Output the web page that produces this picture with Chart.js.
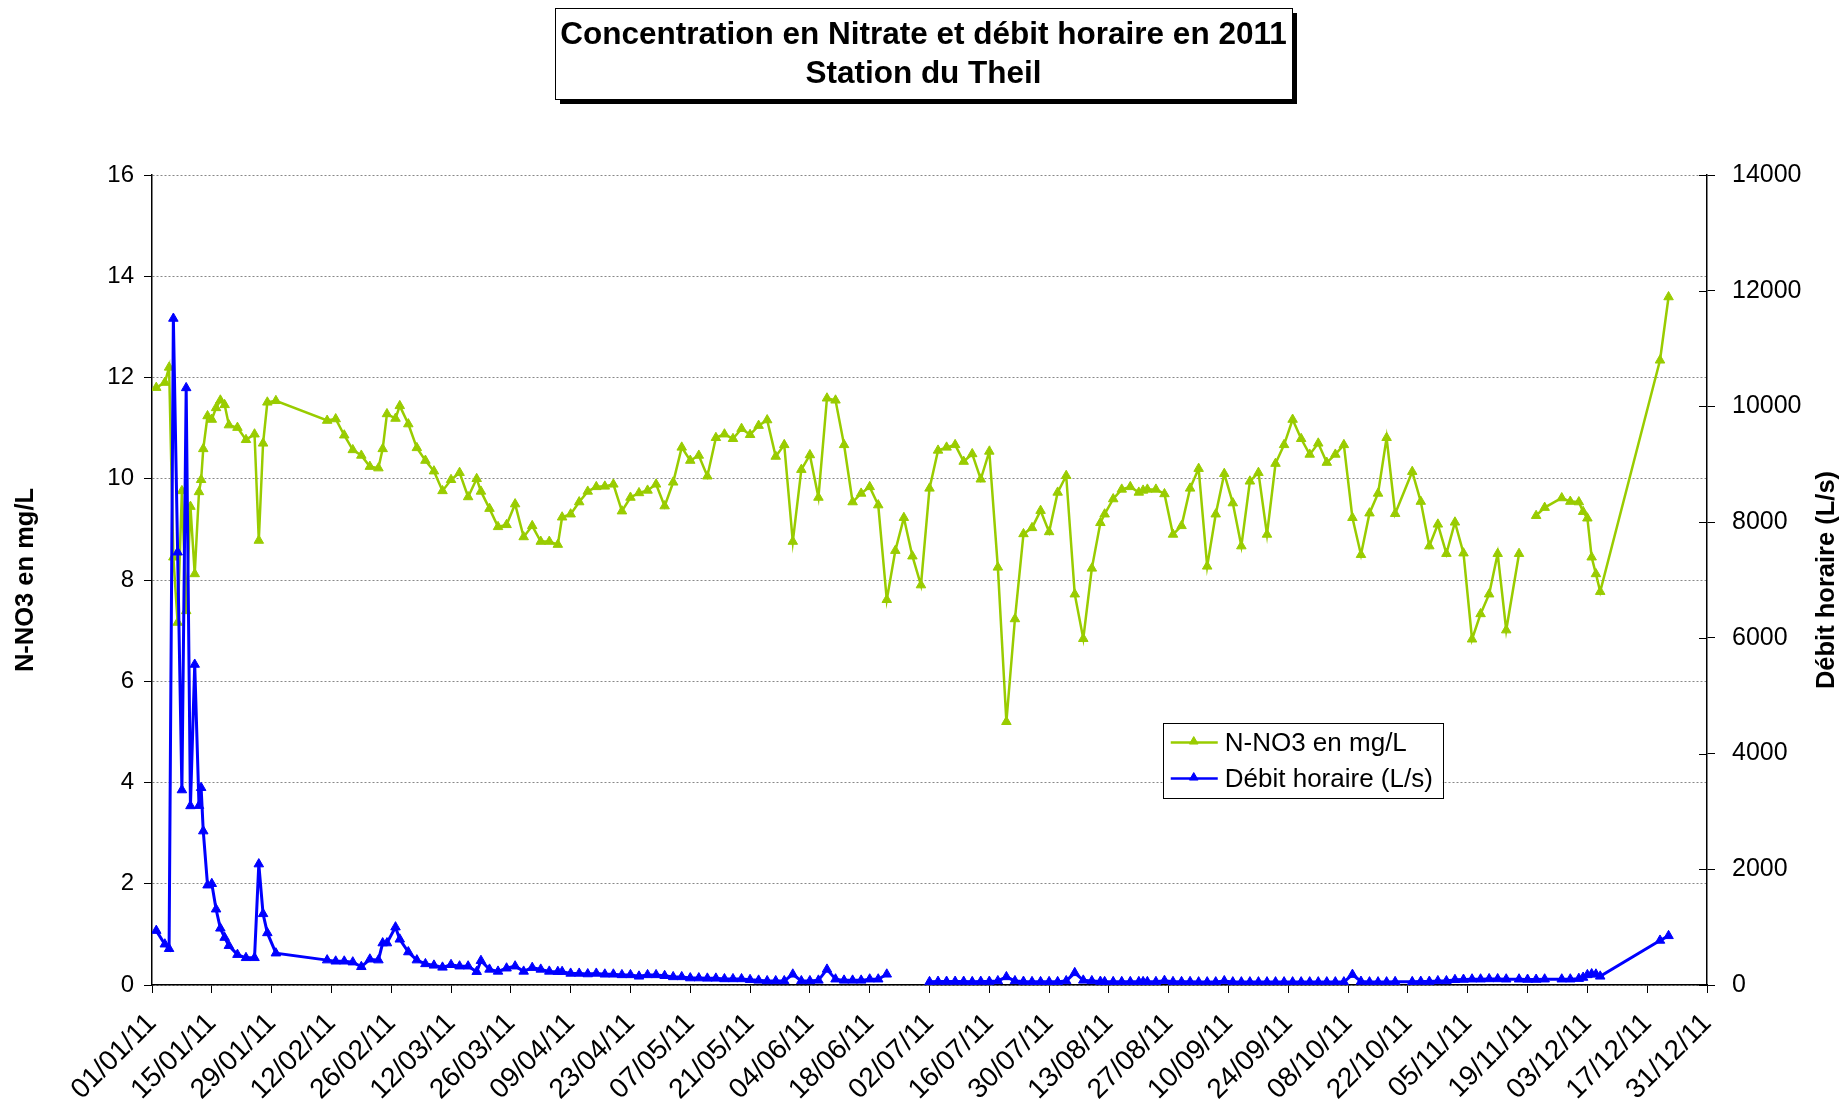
<!DOCTYPE html>
<html lang="fr">
  <head>
    <meta charset="UTF-8" />
    <title>Concentration en Nitrate et débit horaire en 2011</title>
    <script src="https://cdn.jsdelivr.net/npm/chart.js@4.4.0/dist/chart.umd.min.js"></script>
    <style>
      html, body { margin: 0; padding: 0; background: #fff; }
      canvas { display: block; }
    </style>
  </head>
  <body>
    <canvas id="myChart" width="1847" height="1104"></canvas>

    <script>
      // jours depuis le 01/01/11
      const days = [
        1, 3, 4, 5, 6, 7, 8, 9, 10, 11,
        11.5, 12, 13, 14, 15, 16, 17, 18, 20, 22,
        24, 25, 26, 27, 29, 41, 43, 45, 47, 49,
        51, 53, 54, 55, 57, 58, 60, 62, 64, 66,
        68, 70, 72, 74, 76, 77, 79, 81, 83, 85,
        87, 89, 91, 93, 95, 96, 98, 100, 102, 104,
        106, 108, 110, 112, 114, 116, 118, 120, 122, 124,
        126, 128, 130, 132, 134, 136, 138, 140, 142, 144,
        146, 148, 150, 152, 154, 156, 158, 160, 162, 164,
        166, 168, 170, 172, 174, 176, 178, 180, 182, 184,
        186, 188, 190, 192, 194, 196, 198, 200, 202, 204,
        206, 208, 210, 212, 214, 216, 218, 220, 222, 223,
        225, 227, 229, 231, 232, 233, 235, 237, 239, 241,
        243, 245, 247, 249, 251, 253, 255, 257, 259, 261,
        263, 265, 267, 269, 271, 273, 275, 277, 279, 281,
        283, 285, 287, 289, 291, 295, 297, 299, 301, 303,
        305, 307, 309, 311, 313, 315, 317, 320, 322, 324,
        326, 330, 332, 334, 335, 336, 337, 338, 339, 353,
        355
      ];

      // N-NO3 en mg/L
      const nitrate = [
        11.8, 11.9, 12.2, 8.45, 7.16, 9.76, 7.39, 9.45, 8.12, 9.74,
        9.98, 10.59, 11.24, 11.17, 11.4, 11.55, 11.46, 11.06, 11.01, 10.77,
        10.88, 8.78, 10.7, 11.51, 11.54, 11.15, 11.18, 10.86, 10.57, 10.46,
        10.24, 10.21, 10.59, 11.28, 11.19, 11.44, 11.08, 10.61, 10.36, 10.15,
        9.76, 9.98, 10.12, 9.64, 10.0, 9.75, 9.41, 9.05, 9.09, 9.5,
        8.85, 9.07, 8.76, 8.76, 8.7, 9.24, 9.3, 9.54, 9.75, 9.84,
        9.85, 9.89, 9.36, 9.63, 9.72, 9.77, 9.89, 9.46, 9.93, 10.62,
        10.36, 10.46, 10.05, 10.81, 10.88, 10.79, 10.99, 10.87, 11.05, 11.16,
        10.44, 10.67, 8.76, 10.18, 10.47, 9.63, 11.59, 11.55, 10.67, 9.54,
        9.71, 9.84, 9.48, 7.61, 8.58, 9.23, 8.47, 7.9, 9.81, 10.56,
        10.62, 10.67, 10.34, 10.49, 9.99, 10.54, 8.25, 5.2, 7.23, 8.91,
        9.03, 9.37, 8.95, 9.73, 10.06, 7.72, 6.84, 8.23, 9.13, 9.3,
        9.6, 9.79, 9.84, 9.73, 9.77, 9.79, 9.79, 9.7, 8.9, 9.07,
        9.81, 10.2, 8.27, 9.3, 10.1, 9.52, 8.67, 9.95, 10.12, 8.9,
        10.3, 10.67, 11.17, 10.79, 10.48, 10.7, 10.32, 10.48, 10.67, 9.23,
        8.5, 9.32, 9.71, 10.81, 9.31, 10.14, 9.55, 8.67, 9.1, 8.52,
        9.14, 8.53, 6.83, 7.33, 7.72, 8.52, 7.01, 8.52, null, 9.27,
        9.43, 9.62, 9.55, 9.54, 9.35, 9.22, 8.45, 8.12, 7.77, 12.34,
        13.59
      ];

      // Débit horaire en L/s
      const debit = [
        940, 705, 627, 11520, 7480, 3370, 10320, 3095, 5540, 3100,
        3410, 2660, 1725, 1750, 1310, 980, 820, 680, 525, 470,
        470, 2090, 1230, 900, 550, 430, 410, 410, 395, 315,
        445, 430, 725, 725, 1000, 790, 570, 430, 365, 340,
        305, 350, 325, 325, 230, 420, 270, 235, 290, 325,
        235, 300, 270, 235, 230, 230, 200, 200, 190, 200,
        185, 185, 175, 175, 150, 175, 175, 160, 140, 140,
        120, 120, 115, 115, 105, 105, 105, 90, 80, 70,
        70, 70, 185, 70, 70, 80, 270, 100, 80, 80,
        80, 100, 100, 185, null, null, null, null, 55, 60,
        60, 60, 60, 55, 60, 60, 70, 140, 70, 60,
        55, 55, 55, 55, 70, 210, 80, 70, 60, 55,
        55, 55, 55, 55, 55, 55, 55, 75, 55, 55,
        55, 50, 50, 50, 70, 50, 50, 50, 50, 50,
        50, 50, 50, 50, 50, 50, 50, 50, 50, 180,
        60, 50, 50, 50, 55, 55, 60, 60, 70, 70,
        90, 95, 100, 100, 105, 105, 100, 100, 95, 95,
        100, 100, 100, 110, 130, 175, 190, 185, 150, 770,
        850
      ];

      const dateLabels = [
        '01/01/11', '15/01/11', '29/01/11', '12/02/11', '26/02/11', '12/03/11',
        '26/03/11', '09/04/11', '23/04/11', '07/05/11', '21/05/11', '04/06/11',
        '18/06/11', '02/07/11', '16/07/11', '30/07/11', '13/08/11', '27/08/11',
        '10/09/11', '24/09/11', '08/10/11', '22/10/11', '05/11/11', '19/11/11',
        '03/12/11', '17/12/11', '31/12/11'
      ];

      const titleLines = ['Concentration en Nitrate et débit horaire en 2011', 'Station du Theil'];
      const leftAxisTitle = 'N-NO3 en mg/L';
      const rightAxisTitle = 'Débit horaire (L/s)';
      const seriesNames = ['N-NO3 en mg/L', 'Débit horaire (L/s)'];

      const GREEN = '#99cc00';
      const BLUE = '#0000ff';
      const FONT = "'Liberation Sans', Arial, sans-serif";

      function triangle(ctx, x, y, r, color) {
        ctx.beginPath();
        ctx.moveTo(x, y - r);
        ctx.lineTo(x + r * 0.866, y + r * 0.5);
        ctx.lineTo(x - r * 0.866, y + r * 0.5);
        ctx.closePath();
        ctx.fillStyle = color;
        ctx.strokeStyle = color;
        ctx.lineWidth = 1;
        ctx.fill();
        ctx.stroke();
      }

      // title box, axis titles, legend box and inner ticks of the right axis
      const decorations = {
        id: 'decorations',
        afterDraw(chart) {
          const ctx = chart.ctx;
          const area = chart.chartArea;
          ctx.save();

          // title box with shadow
          const bw = 737, bh = 91;
          const bx = chart.width / 2 - bw / 2, by = 8;
          ctx.fillStyle = '#000';
          ctx.fillRect(bx + 5, by + 5, bw, bh);
          ctx.fillStyle = '#fff';
          ctx.fillRect(bx, by, bw, bh);
          ctx.strokeStyle = '#000';
          ctx.lineWidth = 1;
          ctx.strokeRect(bx + 0.5, by + 0.5, bw, bh);
          ctx.fillStyle = '#000';
          ctx.font = 'bold 31.5px ' + FONT;
          ctx.textAlign = 'center';
          ctx.textBaseline = 'middle';
          ctx.fillText(titleLines[0], chart.width / 2, by + 27);
          ctx.fillText(titleLines[1], chart.width / 2, by + 66);

          // axis titles
          const midY = (area.top + area.bottom) / 2;
          ctx.font = 'bold 25.5px ' + FONT;
          ctx.save();
          ctx.translate(26, midY);
          ctx.rotate(-Math.PI / 2);
          ctx.fillText(leftAxisTitle, 0, 0);
          ctx.restore();
          ctx.save();
          ctx.translate(chart.width - 20, midY);
          ctx.rotate(-Math.PI / 2);
          ctx.fillText(rightAxisTitle, 0, 0);
          ctx.restore();

          // right axis ticks cross the axis
          const y2 = chart.scales.y2;
          ctx.strokeStyle = '#000';
          ctx.lineWidth = 1;
          y2.ticks.forEach(t => {
            const py = Math.round(y2.getPixelForValue(t.value)) + 0.5;
            ctx.beginPath();
            ctx.moveTo(area.right - 8, py);
            ctx.lineTo(area.right, py);
            ctx.stroke();
          });

          // legend inside the plot
          const lx = area.left + 0.650 * (area.right - area.left);
          const ly = area.top + 0.676 * (area.bottom - area.top);
          const lw = 280, lh = 75;
          ctx.fillStyle = '#fff';
          ctx.fillRect(lx, ly, lw, lh);
          ctx.strokeStyle = '#000';
          ctx.lineWidth = 1;
          ctx.strokeRect(Math.round(lx) + 0.5, Math.round(ly) + 0.5, lw, lh);
          const colors = [GREEN, BLUE];
          ctx.font = '26px ' + FONT;
          ctx.textAlign = 'left';
          for (let i = 0; i < 2; i++) {
            const y = ly + 20 + i * 36;
            ctx.strokeStyle = colors[i];
            ctx.lineWidth = 2.5;
            ctx.beginPath();
            ctx.moveTo(lx + 8, y);
            ctx.lineTo(lx + 55, y);
            ctx.stroke();
            triangle(ctx, lx + 31, y - 1, 5, colors[i]);
            ctx.fillStyle = '#000';
            ctx.fillText(seriesNames[i], lx + 62, y + 1);
          }
          ctx.restore();
        }
      };

      window.addEventListener('load', setup);

      function setup() {
        const ctx = document.getElementById('myChart').getContext('2d');
        Chart.defaults.font.family = FONT;
        Chart.defaults.color = '#000';

        const nitratePoints = days.map((d, i) => ({ x: d, y: nitrate[i] }));
        const debitPoints = days.map((d, i) => ({ x: d, y: debit[i] }));

        new Chart(ctx, {
          type: 'line',
          data: {
            datasets: [
              {
                label: seriesNames[0],
                data: nitratePoints,
                yAxisID: 'y',
                borderColor: GREEN,
                backgroundColor: GREEN,
                borderWidth: 2.5,
                pointStyle: 'triangle',
                pointRadius: 5.5,
                pointBorderWidth: 1,
                pointBackgroundColor: GREEN,
                pointBorderColor: GREEN,
                spanGaps: false,
                tension: 0,
                order: 1
              },
              {
                label: seriesNames[1],
                data: debitPoints,
                yAxisID: 'y2',
                borderColor: BLUE,
                backgroundColor: BLUE,
                borderWidth: 3,
                pointStyle: 'triangle',
                pointRadius: 5.5,
                pointBorderWidth: 1,
                pointBackgroundColor: BLUE,
                pointBorderColor: BLUE,
                spanGaps: false,
                tension: 0,
                order: 0
              }
            ]
          },
          options: {
            responsive: false,
            animation: false,
            devicePixelRatio: 1,
            layout: { padding: { top: 175, left: 0, right: 0, bottom: 0 } },
            plugins: {
              legend: { display: false },
              title: { display: false },
              tooltip: { enabled: false }
            },
            scales: {
              x: {
                type: 'linear',
                min: 0,
                max: 364,
                afterFit: s => { s.height = 119; },
                ticks: {
                  stepSize: 14,
                  autoSkip: false,
                  maxRotation: 45,
                  minRotation: 45,
                  padding: 14,
                  font: { size: 28 },
                  callback: v => dateLabels[Math.round(v / 14)]
                },
                grid: { drawOnChartArea: false, drawTicks: true, tickLength: 8, tickColor: '#000' },
                border: { color: '#000', width: 1.5 }
              },
              y: {
                position: 'left',
                min: 0,
                max: 16,
                afterFit: s => { s.width = 152; },
                ticks: { stepSize: 2, padding: 10, font: { size: 24 } },
                grid: { color: '#888', lineWidth: 1, drawTicks: true, tickLength: 8, tickColor: '#000' },
                border: { color: '#000', width: 1.5, dash: [2, 2] }
              },
              y2: {
                position: 'right',
                min: 0,
                max: 14000,
                afterFit: s => { s.width = 140; },
                ticks: { stepSize: 2000, padding: 17, font: { size: 25 }, callback: v => String(v) },
                grid: { drawOnChartArea: false, drawTicks: true, tickLength: 8, tickColor: '#000' },
                border: { color: '#000', width: 1.5 }
              }
            }
          },
          plugins: [decorations]
        });
      }
    </script>
  </body>
</html>
